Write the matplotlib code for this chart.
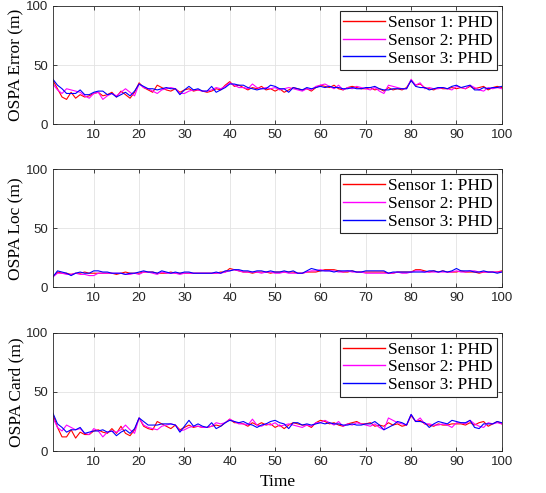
import matplotlib.pyplot as plt
import numpy as np

t = np.arange(1, 101)

# OSPA error (m)
err_s1 = [37, 30, 23, 21, 27, 22, 25, 23, 24, 26, 27, 24, 25, 27, 23, 28, 25, 22, 27, 35,
          31, 29, 27, 33, 31, 29, 28, 30, 27, 29, 30, 28, 29, 28, 27, 28, 30, 29, 33, 36,
          32, 33, 31, 29, 31, 30, 32, 29, 30, 28, 30, 27, 29, 31, 30, 29, 30, 28, 31, 33,
          32, 31, 33, 30, 29, 31, 32, 31, 30, 30, 31, 29, 30, 28, 31, 29, 30, 29, 31, 37,
          33, 34, 31, 30, 29, 31, 30, 30, 31, 30, 31, 30, 32, 30, 31, 32, 29, 31, 32, 31]
err_s2 = [34, 29, 26, 30, 29, 28, 27, 24, 22, 26, 27, 21, 24, 26, 24, 27, 30, 27, 24, 34,
          31, 30, 28, 26, 29, 30, 31, 30, 26, 26, 28, 29, 29, 28, 28, 29, 31, 30, 32, 35,
          33, 31, 31, 30, 34, 31, 30, 31, 30, 31, 29, 30, 31, 30, 29, 28, 30, 29, 32, 33,
          34, 32, 30, 33, 29, 31, 30, 32, 31, 30, 29, 31, 28, 26, 33, 32, 31, 30, 30, 38,
          33, 35, 30, 31, 30, 30, 31, 30, 29, 32, 31, 30, 33, 31, 29, 28, 31, 30, 31, 30]
err_s3 = [38, 33, 30, 26, 26, 26, 29, 25, 25, 27, 28, 28, 25, 26, 23, 25, 27, 24, 28, 34,
          32, 30, 30, 29, 30, 31, 30, 30, 25, 29, 32, 29, 30, 28, 28, 32, 27, 29, 31, 34,
          34, 33, 33, 31, 30, 29, 30, 30, 33, 32, 30, 30, 27, 31, 30, 29, 31, 30, 31, 32,
          31, 32, 31, 31, 30, 30, 31, 30, 30, 31, 31, 32, 30, 29, 29, 30, 30, 30, 30, 37,
          32, 31, 31, 29, 30, 31, 31, 30, 32, 33, 31, 32, 33, 29, 29, 31, 30, 31, 31, 32]

# OSPA localisation (m)
loc_s1 = [9, 13, 12, 12, 11, 12, 12, 13, 12, 12, 12, 12, 12, 12, 11, 12, 13, 12, 12, 12,
          13, 13, 13, 12, 12, 12, 13, 12, 12, 12, 12, 12, 12, 12, 12, 12, 12, 13, 13, 16,
          15, 14, 13, 13, 12, 13, 13, 13, 12, 13, 13, 13, 13, 13, 12, 12, 13, 13, 13, 14,
          15, 15, 15, 14, 13, 13, 14, 13, 13, 13, 13, 13, 13, 13, 12, 12, 13, 13, 13, 13,
          15, 15, 14, 13, 14, 13, 14, 13, 13, 13, 14, 13, 13, 13, 12, 13, 13, 13, 13, 14]
loc_s2 = [9, 12, 12, 11, 11, 12, 11, 11, 10, 10, 12, 12, 12, 12, 12, 12, 11, 11, 12, 11,
          13, 13, 12, 11, 13, 12, 12, 12, 11, 12, 12, 12, 12, 12, 12, 12, 12, 12, 13, 14,
          15, 14, 13, 13, 13, 13, 12, 13, 13, 12, 12, 13, 12, 12, 12, 12, 13, 14, 14, 15,
          14, 14, 14, 13, 13, 14, 13, 13, 13, 12, 12, 12, 12, 12, 12, 12, 13, 12, 12, 13,
          14, 14, 13, 13, 13, 13, 13, 13, 13, 14, 13, 13, 14, 14, 13, 13, 13, 13, 13, 13]
loc_s3 = [9, 14, 13, 12, 10, 12, 13, 12, 12, 14, 14, 13, 13, 12, 12, 12, 11, 12, 12, 13,
          14, 13, 13, 12, 14, 13, 12, 13, 12, 13, 13, 12, 12, 12, 12, 12, 13, 12, 14, 14,
          15, 15, 14, 14, 13, 14, 14, 13, 14, 13, 13, 14, 13, 14, 12, 12, 14, 16, 15, 14,
          14, 14, 13, 14, 14, 14, 14, 13, 13, 14, 14, 14, 14, 14, 12, 13, 13, 13, 13, 13,
          13, 13, 13, 14, 14, 13, 14, 13, 14, 16, 14, 14, 14, 13, 13, 14, 13, 13, 12, 13]

# OSPA cardinality (m)
card_s1 = [31, 20, 12, 12, 18, 11, 16, 14, 14, 17, 18, 16, 15, 19, 15, 21, 15, 13, 18, 28,
           21, 19, 18, 25, 23, 21, 19, 22, 18, 20, 22, 20, 21, 20, 20, 21, 22, 21, 24, 27,
           24, 24, 23, 21, 24, 22, 24, 22, 23, 20, 22, 19, 22, 24, 23, 22, 22, 20, 24, 26,
           25, 23, 24, 22, 21, 23, 24, 25, 23, 23, 24, 21, 22, 21, 24, 22, 23, 21, 22, 30,
           25, 26, 23, 22, 21, 23, 22, 22, 23, 23, 23, 22, 24, 22, 24, 25, 21, 23, 25, 23]
card_s2 = [28, 20, 17, 22, 20, 18, 19, 15, 14, 19, 17, 12, 16, 17, 16, 18, 22, 18, 15, 28,
           22, 20, 19, 18, 21, 22, 23, 22, 17, 18, 20, 21, 21, 20, 20, 21, 24, 23, 24, 27,
           25, 23, 23, 22, 27, 22, 21, 23, 22, 24, 21, 22, 23, 22, 21, 20, 22, 21, 24, 24,
           26, 24, 22, 25, 21, 23, 22, 24, 23, 22, 21, 23, 20, 18, 28, 26, 24, 23, 22, 31,
           25, 28, 23, 23, 22, 22, 23, 22, 20, 24, 24, 23, 26, 23, 21, 20, 24, 23, 24, 23]
card_s3 = [32, 23, 20, 16, 18, 18, 20, 15, 16, 17, 17, 18, 16, 17, 13, 16, 18, 15, 19, 28,
           25, 22, 22, 22, 23, 23, 23, 22, 16, 21, 26, 21, 23, 21, 20, 24, 19, 21, 24, 26,
           25, 24, 25, 23, 22, 20, 22, 23, 25, 26, 24, 23, 19, 24, 24, 22, 23, 22, 23, 24,
           23, 24, 23, 23, 22, 22, 23, 22, 22, 23, 23, 25, 22, 18, 20, 22, 25, 24, 22, 31,
           25, 25, 24, 20, 23, 25, 24, 23, 26, 25, 24, 24, 26, 20, 19, 23, 23, 23, 25, 24]

labels = ['Sensor 1: PHD', 'Sensor 2: PHD', 'Sensor 3: PHD']
colors = ['#ff0000', '#ff00ff', '#0000ff']
ylabels = ['OSPA Error (m)', 'OSPA Loc (m)', 'OSPA Card (m)']
panels = [(err_s1, err_s2, err_s3), (loc_s1, loc_s2, loc_s3), (card_s1, card_s2, card_s3)]

fig = plt.figure(figsize=(5.46, 4.93), dpi=100)
tops = [0.988, 0.657, 0.325]
h = 0.240

for i, series in enumerate(panels):
    ax = fig.add_axes([0.097, tops[i] - h, 0.822, h])
    for y, c, lab in zip(series, colors, labels):
        ax.plot(t, y, color=c, lw=0.8, label=lab)
    ax.set_xlim(1, 100)
    ax.set_ylim(0, 100)
    ax.set_xticks(np.arange(10, 101, 10))
    ax.set_yticks([0, 50, 100])
    ax.grid(True, color='#e3e3e3', lw=0.6)
    ax.set_axisbelow(True)
    for s in ax.spines.values():
        s.set_color('#262626')
        s.set_linewidth(0.6)
    ax.tick_params(direction='in', top=True, right=True, length=3, width=0.6,
                   labelsize=9.5, colors='#262626', labelcolor='#262626')
    for lbl in ax.get_xticklabels() + ax.get_yticklabels():
        lbl.set_family('Liberation Sans')
    ax.set_ylabel(ylabels[i], family='Liberation Serif', fontsize=12.5, labelpad=1)
    leg = ax.legend(loc='upper right', prop={'family': 'Liberation Serif', 'size': 12.5},
                    fancybox=False, framealpha=1, edgecolor='#262626',
                    handlelength=2.4, handletextpad=0.2, borderpad=0.2,
                    labelspacing=0.1, borderaxespad=0.3)
    leg.get_frame().set_linewidth(0.8)
    for ln in leg.get_lines():
        ln.set_linewidth(1.0)
    if i == 2:
        ax.set_xlabel('Time', family='Liberation Serif', fontsize=12.5, labelpad=4)

fig.savefig('out.png', dpi=100)
